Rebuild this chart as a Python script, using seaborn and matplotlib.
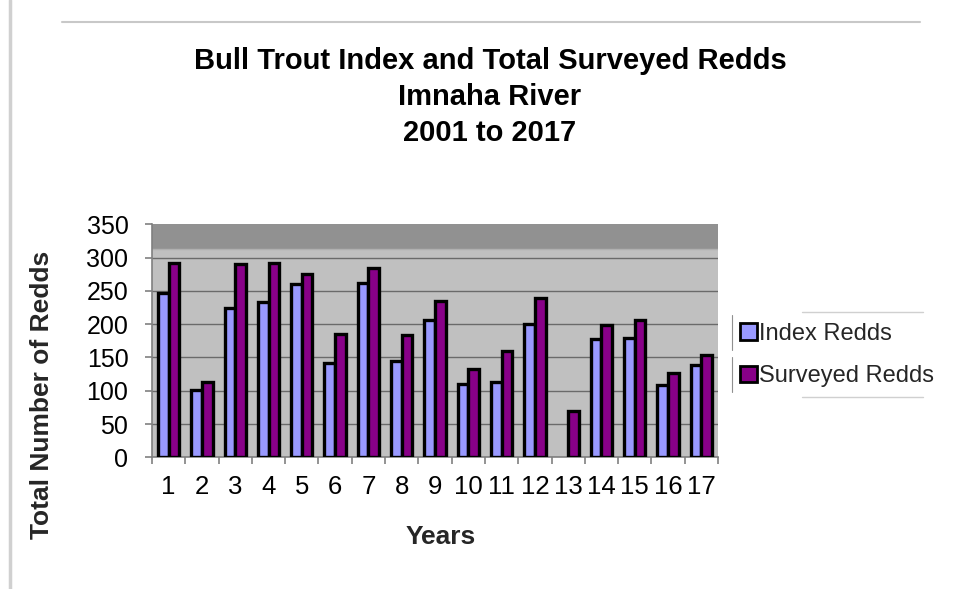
import matplotlib
matplotlib.use('Agg')
import matplotlib.pyplot as plt
import seaborn as sns
import pandas as pd
import numpy as np
from matplotlib.lines import Line2D
from matplotlib.patches import Patch

# ---- data ----
years = [str(i) for i in range(1, 18)]
index_redds = [247, 101, 224, 233, 261, 141, 262, 144, 206, 110, 113, 201, np.nan, 178, 180, 109, 138]
surveyed_redds = [292, 113, 291, 292, 276, 186, 284, 184, 235, 133, 160, 240, 69, 199, 206, 126, 153]
series_names = ['Index Redds', 'Surveyed Redds']
series_colors = ['#9999FF', '#880088']
y_ticks = [0, 50, 100, 150, 200, 250, 300, 350]
title_lines = ['Bull Trout Index and Total Surveyed Redds', 'Imnaha River', '2001 to 2017']
x_label = 'Years'
y_label = 'Total Number of Redds'

df = pd.DataFrame({
    'Year': years + years,
    'Redds': index_redds + surveyed_redds,
    'Series': [series_names[0]] * len(years) + [series_names[1]] * len(years),
})

sns.set_theme(style='white')
plt.rcParams['font.family'] = ['Liberation Sans', 'DejaVu Sans']

W, H = 965, 589
fig = plt.figure(figsize=(W / 100, H / 100), dpi=100)
fig.patch.set_facecolor('white')

left, right, top, bottom = 152, 718, 224.4, 457.3
ax = fig.add_axes([left / W, 1 - bottom / H, (right - left) / W, (bottom - top) / H])
ax.set_facecolor('#C0C0C0')

sns.barplot(data=df, x='Year', y='Redds', hue='Series', palette=series_colors,
            width=0.64, gap=0, edgecolor='black', linewidth=2.4, saturation=1,
            ax=ax, legend=False, zorder=3)

ax.set_ylim(0, 350)
ax.set_xlim(-0.5, len(years) - 0.5)
ax.set_yticks(y_ticks)
ax.set_axisbelow(True)
ax.yaxis.grid(True, color='#6a6a6a', linewidth=1.0)
ax.xaxis.grid(False)
# dark top band of the plot wall
ax.axhspan(313, 350, color='#919191', zorder=1.5, lw=0)
ax.axhline(313, color='#b0b0b0', lw=1, zorder=1.6)

for s in ['top', 'right']:
    ax.spines[s].set_visible(False)
ax.spines['left'].set_color('#808080')
ax.spines['left'].set_linewidth(1.2)
ax.spines['bottom'].set_color('#808080')
ax.spines['bottom'].set_linewidth(1.2)

ax.set_xticks(np.arange(len(years)))
ax.set_xticklabels(years)
ax.set_xticks(np.arange(len(years) + 1) - 0.5, minor=True)
ax.tick_params(axis='x', which='major', length=0, pad=12.5, labelsize=18.5, colors='black')
ax.tick_params(axis='x', which='minor', length=5, width=1.2, color='#808080', direction='out', bottom=True)
ax.tick_params(axis='y', which='major', length=5, width=1.2, color='#808080', pad=12, labelsize=18,
               labelcolor='black', left=True, direction='out')
ax.set_xlabel('')
ax.set_ylabel('')

# titles and labels
for i, t in enumerate(title_lines):
    fig.text(490 / W, 1 - (61 + i * 36) / H, t, ha='center', va='center',
             fontsize=21, fontweight='bold', color='black')
fig.text(441 / W, 1 - 537 / H, x_label, ha='center', va='center', fontsize=19, fontweight='bold')
fig.text(42 / W, 1 - 395 / H, y_label, ha='center', va='center', rotation=90,
         fontsize=19, fontweight='bold')

# legend
handles = [Patch(facecolor=c, edgecolor='black', linewidth=2) for c in series_colors]
fig.legend(handles, series_names, loc='upper left', bbox_to_anchor=(740 / W, 1 - 323 / H),
           frameon=False, fontsize=17, handlelength=0.7, handleheight=0.7,
           handletextpad=0.1, labelspacing=0.85, borderaxespad=0, borderpad=0)

# faint frame artifacts
def fline(x0, y0, x1, y1, c='#c8c8c8', lw=1.5):
    fig.add_artist(Line2D([x0 / W, x1 / W], [1 - y0 / H, 1 - y1 / H], color=c, lw=lw))

fline(62, 22, 920, 22)
fline(10, 0, 10, 589, c='#d0d0d0', lw=2.5)
fline(732, 315, 732, 350, c='#909090', lw=0.8)
fline(732, 357, 732, 392, c='#909090', lw=0.8)
fline(802, 312, 923, 312, c='#d0d0d0', lw=1)
fline(802, 397, 923, 397, c='#d0d0d0', lw=1)

fig.savefig('out.png', dpi=100, facecolor='white')
